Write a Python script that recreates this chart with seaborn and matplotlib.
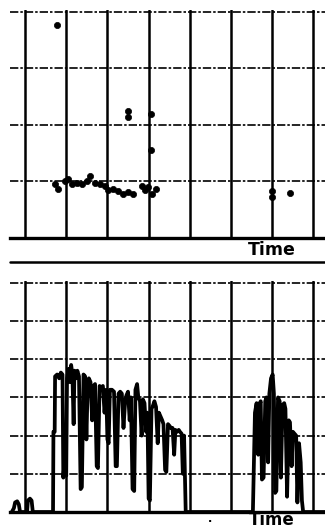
import numpy as np
import pandas as pd
import matplotlib
matplotlib.use("Agg")
import matplotlib.pyplot as plt
import seaborn as sns

# ---------------- data ----------------
# top panel: scattered events (time, level)
top_time = [17.8, 35.0, 35.0, 40.6, 40.6,
            17.3, 18.1, 19.7, 20.5, 21.3, 22.5, 23.8, 25.0, 25.8, 27.0, 28.2,
            29.4, 30.2, 31.4, 32.6, 33.9, 35.1, 36.3, 38.3, 39.1, 39.9, 40.8,
            41.8, 70.0, 70.0, 74.3]
top_level = [3.77, 2.24, 2.14, 2.19, 1.56,
             0.95, 0.87, 1.01, 1.04, 0.95, 0.98, 0.95, 1.00, 1.10, 0.98, 0.95,
             0.92, 0.85, 0.87, 0.84, 0.78, 0.81, 0.77, 0.92, 0.85, 0.90, 0.78,
             0.87, 0.84, 0.73, 0.79]

# bottom panel: continuous signal (time, amplitude)
sig_time = [6.8, 7.3, 7.6, 8.1, 8.5, 8.8, 10.5, 10.7, 11.2, 11.6, 11.9, 16.6,
            16.8, 16.9, 17.2, 17.3, 17.8, 18.3, 18.7, 19.1, 19.3, 19.7, 20.0,
            20.2, 20.6, 20.9, 21.2, 21.5, 21.8, 22.0, 22.4, 22.7, 23.1, 23.5,
            23.8, 24.2, 24.6, 24.9, 25.2, 25.5, 25.9, 26.3, 26.6, 27.0, 27.4,
            27.7, 28.1, 28.4, 28.9, 29.3, 29.7, 30.0, 30.3, 30.6, 31.1, 31.6,
            32.0, 32.3, 32.7, 33.1, 33.5, 33.9, 34.3, 34.6, 35.0, 35.4, 35.7,
            36.1, 36.5, 36.8, 37.2, 37.5, 37.9, 38.3, 38.6, 39.0, 39.4, 39.7,
            40.0, 40.3, 40.7, 41.1, 41.4, 41.8, 42.2, 42.5, 42.9, 43.3, 43.6,
            44.0, 44.3, 44.7, 45.1, 45.4, 45.8, 46.2, 46.5, 46.9, 47.3, 47.6,
            48.0, 48.3, 48.6, 49.0, 49.1,
            65.3, 65.6, 65.8, 66.2, 66.6, 66.8, 67.2, 67.5, 67.9, 68.3, 68.6,
            69.0, 69.3, 69.7, 70.1, 70.4, 70.7, 71.0, 71.4, 71.8, 72.1, 72.5,
            72.9, 73.2, 73.6, 74.0, 74.3, 74.7, 75.0, 75.4, 75.8, 76.1, 76.5,
            76.9, 77.2, 77.5, 83.0]
sig_amp = [0.0, 0.1, 0.25, 0.28, 0.2, 0.0, 0.0, 0.3, 0.35, 0.3, 0.0, 0.0,
           0.0, 2.1, 2.1, 3.55, 3.6, 3.5, 3.65, 3.6, 0.9, 1.5, 0.95,
           3.5, 3.75, 3.4, 3.85, 3.6, 2.3, 3.7, 3.5, 3.7, 3.55, 0.6,
           0.65, 3.6, 3.55, 1.9, 3.3, 3.5, 3.4, 2.4, 3.3, 3.35, 1.2,
           1.15, 3.3, 3.25, 3.3, 2.6, 3.2, 1.9, 1.8, 3.2, 3.2, 3.15,
           1.2, 1.2, 3.1, 3.15, 3.1, 2.2, 2.9, 3.05, 3.15, 2.4, 3.0,
           0.6, 0.55, 3.2, 3.35, 3.0, 2.9, 2.0, 2.95, 2.85, 2.1, 2.6,
           0.35, 0.3, 2.7, 2.8, 2.9, 2.75, 1.8, 2.6, 2.5, 2.4, 2.3,
           1.1, 1.05, 2.3, 2.25, 2.2, 2.2, 1.5, 2.15, 2.1, 2.15, 2.1,
           2.05, 1.0, 2.0, 0.0, 0.0,
           0.0, 1.6, 2.6, 2.85, 1.5, 2.8, 2.9, 0.85, 0.9, 2.9, 3.0,
           1.3, 3.1, 3.5, 3.6, 3.1, 0.5, 0.55, 3.0, 2.9, 0.9, 2.8,
           2.85, 2.7, 0.4, 2.4, 2.35, 1.2, 2.1, 2.05, 2.0, 0.25, 1.8,
           1.3, 0.3, 0.0, 0.0]

time_grid = [10, 20, 30, 40, 50, 60, 70, 80]
top_levels = [1, 2, 3, 4]
bottom_levels = [1, 2, 3, 4, 5, 6]
xlabel = "Time"

top_df = pd.DataFrame({"time": top_time, "level": top_level})
sig_df = pd.DataFrame({"time": sig_time, "amp": sig_amp})

# ---------------- figure ----------------
sns.set_style("white")
plt.rcParams["font.family"] = ["DejaVu Sans"]

W, H = 325, 530
fig = plt.figure(figsize=(W / 100, H / 100), dpi=100)

def px_box(left, top, right, bottom):
    return [left / W, 1 - bottom / H, (right - left) / W, (bottom - top) / H]

ax1 = fig.add_axes(px_box(10, 10, 325, 238))
ax2 = fig.add_axes(px_box(10, 281, 325, 512))

for ax, levels in ((ax1, top_levels), (ax2, bottom_levels)):
    ax.set_xlim(6.36, 82.8)
    ax.set_ylim(0, levels[-1] * 1.008)
    ax.set_xticks(time_grid)
    ax.set_yticks(levels)
    ax.tick_params(length=0, labelbottom=False, labelleft=False)
    ax.xaxis.grid(True, color="black", lw=1.8, ls="-")
    ax.yaxis.grid(True, color="black", lw=1.2, ls=(0, (5, 1.2, 1.5, 1.2)))
    ax.set_axisbelow(True)
    for s in ("left", "right", "top"):
        ax.spines[s].set_visible(False)
    ax.spines["bottom"].set_color("black")
    ax.spines["bottom"].set_linewidth(2.4)
    ax.set_facecolor("white")

sns.scatterplot(data=top_df, x="time", y="level", ax=ax1, color="black",
                s=20, marker="o", edgecolor="black", linewidth=0.5, zorder=3)
ax1.set_xlabel(""); ax1.set_ylabel("")

sns.lineplot(data=sig_df, x="time", y="amp", ax=ax2, color="black",
             lw=2.7, sort=False, estimator=None, zorder=3)
ax2.set_xlabel(""); ax2.set_ylabel("")

# separator line under the top panel's label
fig.add_artist(plt.Line2D([10 / W, 1.0], [1 - 262 / H, 1 - 262 / H],
                          transform=fig.transFigure, color="black", lw=1.8))

fig.text(272 / W, 1 - 250 / H, xlabel, ha="center", va="center",
         fontsize=12.5, fontweight="bold", color="black")
fig.text(272 / W, 1 - 529 / H, xlabel, ha="center", va="bottom",
         fontsize=12, fontweight="bold", color="black")
fig.text(210 / W, 1 - 522 / H, "·", ha="center", va="center",
         fontsize=8, fontweight="bold", color="black")

fig.savefig("out.png", dpi=100, facecolor="white")
